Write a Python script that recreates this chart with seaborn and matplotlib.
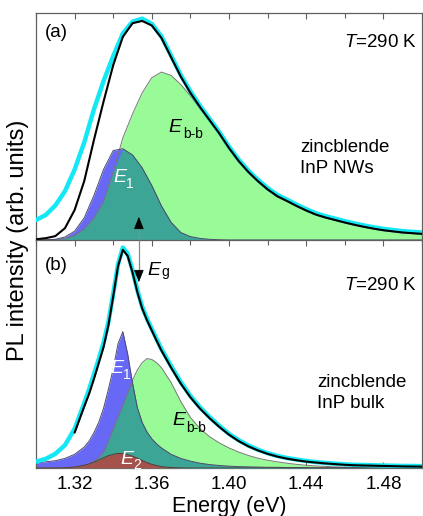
import numpy as np
import pandas as pd
import matplotlib
matplotlib.use("Agg")
import matplotlib.pyplot as plt
from matplotlib.ticker import MultipleLocator, FormatStrFormatter
import seaborn as sns

# ---------------- data ----------------
# panel (a): zincblende InP nanowires
E_A = [1.300, 1.305, 1.310, 1.315, 1.320, 1.325, 1.330, 1.335, 1.340, 1.345,
       1.350, 1.355, 1.360, 1.365, 1.370, 1.375, 1.380, 1.385, 1.390, 1.395,
       1.400, 1.405, 1.410, 1.415, 1.420, 1.425, 1.430, 1.435, 1.440, 1.445,
       1.450, 1.455, 1.460, 1.465, 1.470, 1.475, 1.480, 1.485, 1.490, 1.495,
       1.500]
A_E1 = [0.000, 0.001, 0.003, 0.013, 0.039, 0.098, 0.196, 0.311, 0.394, 0.402,
        0.375, 0.318, 0.240, 0.150, 0.078, 0.033, 0.015, 0.007, 0.003, 0.001,
        0.000, 0.000, 0.000, 0.000, 0.000, 0.000, 0.000, 0.000, 0.000, 0.000,
        0.000, 0.000, 0.000, 0.000, 0.000, 0.000, 0.000, 0.000, 0.000, 0.000,
        0.000]
A_EBB = [0.000, 0.001, 0.002, 0.006, 0.020, 0.050, 0.098, 0.170, 0.300, 0.450,
         0.555, 0.648, 0.715, 0.740, 0.725, 0.685, 0.635, 0.578, 0.522, 0.466,
         0.402, 0.345, 0.297, 0.256, 0.220, 0.190, 0.170, 0.148, 0.128, 0.110,
         0.097, 0.086, 0.075, 0.065, 0.056, 0.048, 0.041, 0.036, 0.031, 0.028,
         0.025]
A_FIT = [0.003, 0.008, 0.017, 0.052, 0.132, 0.260, 0.440, 0.610, 0.770, 0.895,
         0.955, 0.965, 0.945, 0.890, 0.805, 0.720, 0.648, 0.585, 0.527, 0.469,
         0.405, 0.348, 0.300, 0.259, 0.223, 0.193, 0.172, 0.150, 0.130, 0.112,
         0.099, 0.088, 0.077, 0.067, 0.058, 0.050, 0.043, 0.038, 0.033, 0.030,
         0.027]
A_DATA = [0.088, 0.110, 0.152, 0.215, 0.310, 0.430, 0.575, 0.700, 0.810, 0.910,
          0.962, 0.975, 0.952, 0.897, 0.812, 0.727, 0.655, 0.591, 0.533, 0.475,
          0.411, 0.354, 0.306, 0.265, 0.229, 0.199, 0.178, 0.156, 0.136, 0.118,
          0.105, 0.094, 0.083, 0.073, 0.064, 0.056, 0.049, 0.044, 0.039, 0.036,
          0.033]

# panel (b): zincblende InP bulk
E_B = [1.300, 1.305, 1.310, 1.315, 1.320, 1.325,
       1.3275, 1.330, 1.3325, 1.335, 1.3375, 1.340, 1.3425, 1.345, 1.3475, 1.350,
       1.3525, 1.355, 1.3575, 1.360, 1.3625, 1.365,
       1.370, 1.375, 1.380, 1.385, 1.390, 1.395, 1.400, 1.405, 1.410, 1.415,
       1.420, 1.425, 1.430, 1.435, 1.440, 1.445, 1.450, 1.455, 1.460, 1.465,
       1.470, 1.475, 1.480, 1.485, 1.490, 1.495, 1.500]
B_E1 = [0.022, 0.027, 0.032, 0.042, 0.060, 0.092,
        0.118, 0.155, 0.200, 0.262, 0.345, 0.435, 0.545, 0.598, 0.500, 0.372,
        0.265, 0.200, 0.158, 0.128, 0.106, 0.088,
        0.060, 0.042, 0.030, 0.021, 0.015, 0.011, 0.008, 0.006, 0.005, 0.004,
        0.003, 0.003, 0.002, 0.002, 0.002, 0.001, 0.001, 0.001, 0.001, 0.001,
        0.001, 0.001, 0.001, 0.001, 0.001, 0.001, 0.001]
B_EBB = [0.000, 0.000, 0.000, 0.001, 0.004, 0.012,
         0.018, 0.030, 0.045, 0.070, 0.118, 0.172, 0.225, 0.275, 0.330, 0.385,
         0.430, 0.462, 0.480, 0.476, 0.462, 0.440,
         0.375, 0.292, 0.222, 0.172, 0.137, 0.110, 0.088, 0.070, 0.055, 0.043,
         0.034, 0.027, 0.021, 0.016, 0.012, 0.009, 0.007, 0.005, 0.004, 0.003,
         0.002, 0.002, 0.001, 0.001, 0.001, 0.001, 0.001]
B_E2 = [0.000, 0.000, 0.000, 0.001, 0.004, 0.012,
        0.018, 0.026, 0.035, 0.045, 0.054, 0.060, 0.064, 0.063, 0.059, 0.052,
        0.043, 0.033, 0.024, 0.016, 0.011, 0.006,
        0.002, 0.0005, 0.0, 0.0, 0.0, 0.0, 0.0, 0.0, 0.0, 0.0,
        0.0, 0.0, 0.0, 0.0, 0.0, 0.0, 0.0, 0.0, 0.0, 0.0,
        0.0, 0.0, 0.0, 0.0, 0.0, 0.0, 0.0]
B_FIT = [np.nan, np.nan, np.nan, np.nan, 0.155, 0.270,
         0.325, 0.390, 0.460, 0.530, 0.625, 0.752, 0.885, 0.957, 0.930, 0.858,
         0.772, 0.700, 0.648, 0.603, 0.558, 0.515,
         0.440, 0.370, 0.310, 0.260, 0.218, 0.180, 0.146, 0.118, 0.095, 0.077,
         0.062, 0.050, 0.041, 0.034, 0.028, 0.024, 0.020, 0.017, 0.014, 0.012,
         0.011, 0.010, 0.009, 0.008, 0.007, 0.0065, 0.006]
B_DATA = [0.028, 0.040, 0.062, 0.100, 0.172, 0.285,
          0.345, 0.410, 0.478, 0.550, 0.640, 0.764, 0.893, 0.967, 0.940, 0.868,
          0.780, 0.708, 0.655, 0.610, 0.565, 0.522,
          0.447, 0.377, 0.316, 0.266, 0.223, 0.185, 0.150, 0.122, 0.099, 0.080,
          0.065, 0.053, 0.044, 0.037, 0.031, 0.026, 0.022, 0.019, 0.016, 0.014,
          0.013, 0.012, 0.011, 0.010, 0.009, 0.009, 0.008]

E_GAP = 1.3533          # band-gap arrow position (eV)
XLIM = (1.30, 1.50)
TEMP_LABEL = "=290 K"

# ---------------- style ----------------
sns.set_style("ticks")
plt.rcParams["font.family"] = ["Liberation Sans", "DejaVu Sans"]
plt.rcParams["mathtext.fontset"] = "custom"
plt.rcParams["mathtext.rm"] = "Liberation Sans"
plt.rcParams["mathtext.it"] = "Liberation Sans:italic"
plt.rcParams["text.color"] = "black"
plt.rcParams["xtick.labelcolor"] = "black"
plt.rcParams["axes.labelcolor"] = "black"

GREEN = "#98fb98"
BLUE = "#6868f6"
TEAL = "#3ca596"
RED = "#a4524b"
CYAN = "#14e8f4"
SPINE = "#606060"

W, H = 423, 516
fig = plt.figure(figsize=(W / 100, H / 100), dpi=100)


def box(l, t, r, b):
    return [l / W, 1 - b / H, (r - l) / W, (b - t) / H]


ax_a = fig.add_axes(box(36, 13, 422, 240))
ax_b = fig.add_axes(box(36, 240, 422, 468))


def draw_panel(ax, E, green, blue, fit, data, red=None):
    E = np.asarray(E, float)
    green = np.asarray(green, float)
    blue = np.asarray(blue, float)
    ax.fill_between(E, 0, green, color=GREEN, lw=0, zorder=1)
    ax.fill_between(E, 0, blue, color=BLUE, lw=0, zorder=2)
    ax.fill_between(E, 0, np.minimum(blue, green), color=TEAL, lw=0, zorder=3)
    sns.lineplot(x=E, y=green, ax=ax, color="#787878", lw=0.7, zorder=5,
                 errorbar=None)
    sns.lineplot(x=E, y=blue, ax=ax, color="#4a4a6a", lw=0.7, zorder=5,
                 errorbar=None)
    if red is not None:
        red = np.asarray(red, float)
        ax.fill_between(E, 0, red, color=RED, lw=0, zorder=4)
        sns.lineplot(x=E, y=red, ax=ax, color="#5a3a36", lw=0.7, zorder=5,
                     errorbar=None)
    df = pd.DataFrame({"E": E, "data": data, "fit": fit})
    d1 = df.dropna(subset=["data"])
    sns.lineplot(data=d1, x="E", y="data", ax=ax, color=CYAN, lw=3.2,
                 zorder=6, errorbar=None)
    d2 = df.dropna(subset=["fit"])
    sns.lineplot(data=d2, x="E", y="fit", ax=ax, color="black", lw=1.5,
                 zorder=7, errorbar=None)
    for ln in ax.get_lines():
        ln.set_solid_joinstyle("round")
    ax.set_xlim(*XLIM)
    ax.set_ylim(0, 1)
    ax.set_yticks([])
    ax.set_ylabel("")
    ax.set_xlabel("")
    ax.xaxis.set_major_locator(MultipleLocator(0.04))
    ax.xaxis.set_minor_locator(MultipleLocator(0.02))
    ax.xaxis.set_major_formatter(FormatStrFormatter("%.2f"))
    ax.tick_params(axis="x", which="both", direction="in", top=True,
                   bottom=True, color=SPINE, width=0.8)
    ax.tick_params(axis="x", which="major", length=4.5, labelsize=13.5,
                   pad=6, labelcolor="black")
    ax.tick_params(axis="x", which="minor", length=3.5)
    for s in ax.spines.values():
        s.set_color(SPINE)
        s.set_linewidth(0.9)
        s.set_visible(True)


draw_panel(ax_a, E_A, A_EBB, A_E1, A_FIT, A_DATA)
draw_panel(ax_b, E_B, B_EBB, B_E1, B_FIT, B_DATA, red=B_E2)
ax_a.tick_params(axis="x", labelbottom=False)

# band-gap arrow spanning both panels
ax_a.vlines(E_GAP, 0, 0.06, color="#8a8a8a", lw=0.9, zorder=8, clip_on=False)
ax_a.annotate("", xy=(E_GAP, 0.102), xytext=(E_GAP, 0.055),
              arrowprops=dict(arrowstyle="-|>,head_length=0.55,head_width=0.22",
                              color="black", lw=0.6, shrinkA=0, shrinkB=0,
                              mutation_scale=14), zorder=9)
ax_b.vlines(E_GAP, 0.86, 1.0, color="#8a8a8a", lw=0.9, zorder=8, clip_on=False)
ax_b.annotate("", xy=(E_GAP, 0.815), xytext=(E_GAP, 0.865),
              arrowprops=dict(arrowstyle="-|>,head_length=0.55,head_width=0.22",
                              color="black", lw=0.6, shrinkA=0, shrinkB=0,
                              mutation_scale=14), zorder=9)


# ---------------- labels ----------------
def ftext(px, py, s, **kw):
    kw.setdefault("ha", "left")
    kw.setdefault("va", "baseline")
    kw.setdefault("color", "black")
    return fig.text(px / W, 1 - py / H, s, **kw)


def sublabel(px, py, main, sub, color="black", size=14, subsize=10,
             sdx=14, sdy=6):
    ftext(px, py, main, color=color, fontsize=size, fontstyle="italic",
          zorder=10)
    ftext(px + sdx, py + sdy, sub, color=color, fontsize=subsize, zorder=10)


ftext(45, 37, "(a)", fontsize=13.5)
ftext(45, 270, "(b)", fontsize=13.5)
ftext(417, 47, r"$T$" + TEMP_LABEL, fontsize=13.5, ha="right")
ftext(417, 290, r"$T$" + TEMP_LABEL, fontsize=13.5, ha="right")
ftext(300, 152, "zincblende", fontsize=13.5)
ftext(300, 173, "InP NWs", fontsize=13.5)
ftext(317, 387, "zincblende", fontsize=13.5)
ftext(317, 408, "InP bulk", fontsize=13.5)

sublabel(168, 132, "E", "b-b", sdx=15, sdy=6)
sublabel(113, 182, "E", "1", color="white", sdx=13, sdy=6)
sublabel(110, 373, "E", "1", color="white", sdx=13, sdy=6)
sublabel(172, 425, "E", "b-b", sdx=14, sdy=7)
sublabel(120, 464, "E", "2", color="white", sdx=13, sdy=5)
sublabel(147, 275, "E", "g", sdx=14, sdy=1)

fig.text(18 / W, 1 - 240 / H, "PL intensity (arb. units)", rotation=90,
         ha="center", va="center", fontsize=17, color="black")
fig.text(229 / W, 1 - 512 / H, "Energy (eV)", ha="center", va="baseline",
         fontsize=15.5, color="black")

fig.savefig("out.png", dpi=100)
